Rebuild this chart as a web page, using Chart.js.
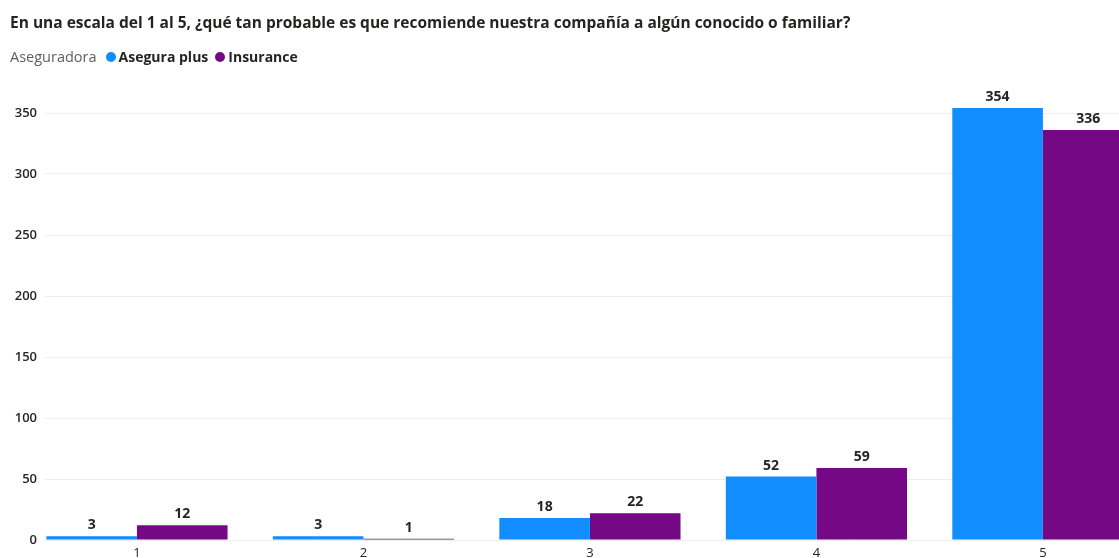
<!DOCTYPE html>
<html>
<head>
<meta charset="utf-8">
<script src="https://cdn.jsdelivr.net/npm/chart.js@4/dist/chart.umd.min.js"></script>
<style>
  html, body { margin: 0; padding: 0; background: #fff; overflow: hidden; }
  #wrap { position: relative; width: 1119px; height: 558px; }
  #myChart { position: absolute; left: 0; top: 0; }
  #title {
    position: absolute; left: 10px; top: 11px;
    font-family: "Open Sans", sans-serif; font-weight: 700; font-size: 15.5px;
    color: #252423; white-space: nowrap;
  }
  #legend {
    position: absolute; left: 10px; top: 47px;
    font-family: "Open Sans", sans-serif; font-size: 14.5px; color: #605E5C;
    white-space: nowrap; display: flex; align-items: center;
  }
  #legend .item { display: flex; align-items: center; color: #252423; font-weight: 700; font-size: 14px; }
  #legend .dot { width: 10px; height: 10px; border-radius: 50%; margin: 0 3px 0 9px; }
  #legend .item + .item .dot { margin-left: 7px; }
</style>
</head>
<body>
<div id="wrap">
  <canvas id="myChart" width="1119" height="558"></canvas>
  <div id="title">En una escala del 1 al 5, ¿qué tan probable es que recomiende nuestra compañía a algún conocido o familiar?</div>
  <div id="legend">
    <span>Aseguradora</span>
    <span class="item"><span class="dot" style="background:#118DFF"></span>Asegura plus</span>
    <span class="item"><span class="dot" style="background:#750985"></span>Insurance</span>
  </div>
</div>
<script>
  // categorias y series
  const categories = ['1', '2', '3', '4', '5'];
  const aseguraPlus = [3, 3, 18, 52, 354];
  const insurance = [12, 1, 22, 59, 336];
  const yTicks = [0, 50, 100, 150, 200, 250, 300, 350];

  const toPoints = (values) => values.map((v, i) => ({ x: Number(categories[i]), y: v }));

  // etiquetas de valor encima de cada barra
  const valueLabels = {
    id: 'valueLabels',
    afterDatasetsDraw(chart) {
      const ctx = chart.ctx;
      ctx.save();
      ctx.font = '700 14px "Open Sans", sans-serif';
      ctx.fillStyle = '#252423';
      ctx.textAlign = 'center';
      ctx.textBaseline = 'bottom';
      chart.data.datasets.forEach((ds, di) => {
        chart.getDatasetMeta(di).data.forEach((bar, i) => {
          ctx.fillText(ds.data[i].y, bar.x, bar.y - 4);
        });
      });
      ctx.restore();
    }
  };

  const config = {
    type: 'bar',
    data: {
      datasets: [{
        label: 'Asegura plus',
        data: toPoints(aseguraPlus),
        backgroundColor: '#118DFF',
        categoryPercentage: 0.8,
        barPercentage: 1
      }, {
        label: 'Insurance',
        data: toPoints(insurance),
        backgroundColor: '#750985',
        categoryPercentage: 0.8,
        barPercentage: 1
      }]
    },
    options: {
      responsive: false,
      animation: false,
      devicePixelRatio: 1,
      layout: { padding: { top: 88.6, left: 0, right: 0, bottom: 0 } },
      plugins: { legend: { display: false }, tooltip: { enabled: false } },
      scales: {
        x: {
          type: 'linear',
          offset: false,
          min: 0.594,
          max: 5.336,
          grid: { display: false, offset: false, drawTicks: false },
          border: { display: false },
          afterBuildTicks: (scale) => { scale.ticks = categories.map(c => ({ value: Number(c) })); },
          afterFit: (scale) => { scale.height = 18; },
          ticks: {
            padding: 5,
            color: '#252423',
            font: { family: '"Open Sans", sans-serif', size: 13 },
            callback: (v) => String(v)
          }
        },
        y: {
          min: 0,
          max: 370,
          afterBuildTicks: (scale) => { scale.ticks = yTicks.map(v => ({ value: v })); },
          afterFit: (scale) => { scale.width = 45; },
          grid: { color: '#EDEDED', drawTicks: false },
          border: { display: false },
          ticks: {
            padding: 8,
            color: '#252423',
            font: { family: '"Open Sans", sans-serif', size: 13, weight: '600' }
          }
        }
      }
    },
    plugins: [valueLabels]
  };

  const myChart = new Chart(document.getElementById('myChart'), config);
</script>
</body>
</html>
